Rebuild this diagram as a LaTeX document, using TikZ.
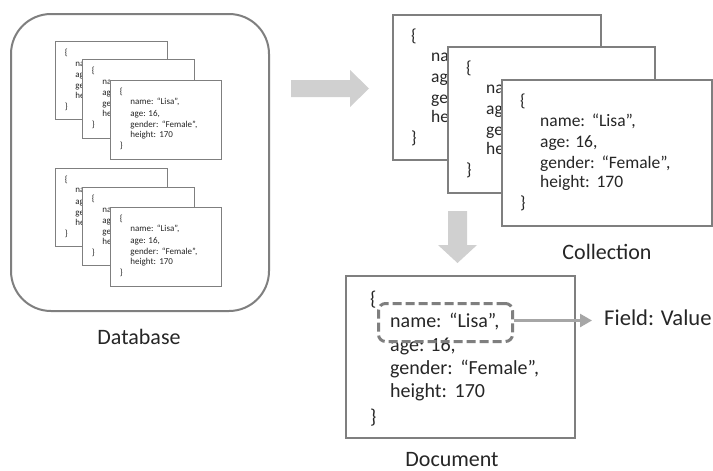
\documentclass[tikz,border=0pt]{standalone}
\usepackage{fontspec}
\setmainfont{Carlito}
\usetikzlibrary{arrows.meta}
\definecolor{edge}{HTML}{7F7F7F}
\definecolor{blockgray}{HTML}{D0D0D0}
\definecolor{linkgray}{HTML}{A6A6A6}
\definecolor{ink}{HTML}{262626}
\newcommand{\gap}{\hspace{0.38em}}
\tikzset{
  docframe/.style={draw=edge,fill=white},
  line/.style={anchor=base west,inner sep=0pt,text=ink},
  caption/.style={inner sep=0pt,text=ink,font=\fontsize{22}{26}\selectfont},
  blockarrow/.style={fill=blockgray,draw=none},
  fieldbox/.style={draw=edge,line width=3pt,dash pattern=on 9pt off 4pt,rounded corners=7pt,fill=none},
  link/.style={draw=linkgray,line width=2.5pt,-{Triangle[length=12pt,width=13pt]}}
}
\newcommand{\setfull}{\def\lineA{name:\gap“Lisa”,}\def\lineB{age: 16,}\def\lineC{gender:\gap“Female”,}\def\lineD{height:\gap170}}
\newcommand{\setcut}{\def\lineA{na}\def\lineB{ag}\def\lineC{ge}\def\lineD{he}}
% name, x, y, w, h, scale, font size, line width
\newcommand{\docbox}[8]{
  \node[docframe,line width=#8pt,minimum width=#4pt,minimum height=#5pt,inner sep=0pt,anchor=north west] (#1) at (#2,#3) {};
  \node[line,font=\fontsize{#7}{#7}\selectfont] (#1-a) at (#2+19*#6,#3+22*#6+0.3*#7+0.5) {\{};
  \node[line,font=\fontsize{#7}{#7}\selectfont] (#1-b) at (#2+39*#6,#3+42*#6+0.3*#7+0.5) {\lineA};
  \node[line,font=\fontsize{#7}{#7}\selectfont] (#1-c) at (#2+39*#6,#3+63*#6+0.3*#7+0.5) {\lineB};
  \node[line,font=\fontsize{#7}{#7}\selectfont] (#1-d) at (#2+39*#6,#3+84*#6+0.3*#7+0.5) {\lineC};
  \node[line,font=\fontsize{#7}{#7}\selectfont] (#1-e) at (#2+39*#6,#3+103*#6+0.3*#7+0.5) {\lineD};
  \node[line,font=\fontsize{#7}{#7}\selectfont] (#1-f) at (#2+19*#6,#3+124*#6+0.3*#7+0.5) {\}};
}
\begin{document}
\begin{tikzpicture}[x=1pt,y=-1pt]
\useasboundingbox (0,0) rectangle (713,471);
\fill[white] (0,0) rectangle (713,471);
% database
\node[draw=edge,line width=2pt,rounded corners=40pt,minimum width=258pt,minimum height=297pt,inner sep=0pt,anchor=north west] (db) at (10,13) {};
\setcut
\docbox{sa}{54.5}{41}{112}{78}{0.53}{9}{1}
\docbox{sb}{81.5}{59}{112}{79}{0.53}{9}{1}
\setfull
\docbox{sc}{109.5}{79.5}{111}{79}{0.53}{9}{1}
\setcut
\docbox{ta}{54.5}{167.5}{112}{78}{0.53}{9}{1}
\docbox{tb}{81.5}{187}{112}{78}{0.53}{9}{1}
\setfull
\docbox{tc}{109.5}{206.5}{111}{79}{0.53}{9}{1}
\node[caption] (dbl) at (139,337) {Database};
% collection
\setcut
\docbox{ca}{392}{14}{208}{145}{1}{17.5}{2.2}
\docbox{cb}{447}{46}{207}{146}{1}{17.5}{2.2}
\setfull
\docbox{cc}{501}{79}{210}{146}{1}{17.5}{2.2}
\node[caption] (cl) at (607,252) {Collection};
% block arrows
\fill[blockarrow] (291,80) -- (350,80) -- (350,70) -- (369,88.5) -- (350,107) -- (350,97) -- (291,97) -- cycle;
\fill[blockarrow] (448,211) -- (467,211) -- (467,245) -- (477,245) -- (457.5,263) -- (438,245) -- (448,245) -- cycle;
% document
\node[docframe,line width=2.2pt,minimum width=229pt,minimum height=162pt,inner sep=0pt,anchor=north west] (doc) at (345,275) {};
\node[line,font=\fontsize{20}{20}\selectfont] (d-a) at (370,305) {\{};
\node[line,font=\fontsize{20}{20}\selectfont] (d-c) at (390,351) {\lineB};
\node[fieldbox,minimum width=134pt,minimum height=38pt,inner sep=0pt,anchor=north west] (dash) at (377,302) {};
\node[line,font=\fontsize{20}{20}\selectfont] (d-b) at (390,327) {\lineA};
\node[line,font=\fontsize{20}{20}\selectfont] (d-d) at (390,374) {\lineC};
\node[line,font=\fontsize{20}{20}\selectfont] (d-e) at (390,397) {\lineD};
\node[line,font=\fontsize{20}{20}\selectfont] (d-f) at (370,423) {\}};
\node[caption] (dl) at (452,459.5) {Document};
\node[line,font=\fontsize{22.6}{26}\selectfont] (field) at (604,325.5) {Field: Value};
\coordinate (linkstart) at ([yshift=2pt]dash.east);
\draw[link,shorten >=12pt] (linkstart) -- (linkstart -| field.west);
\end{tikzpicture}
\end{document}
